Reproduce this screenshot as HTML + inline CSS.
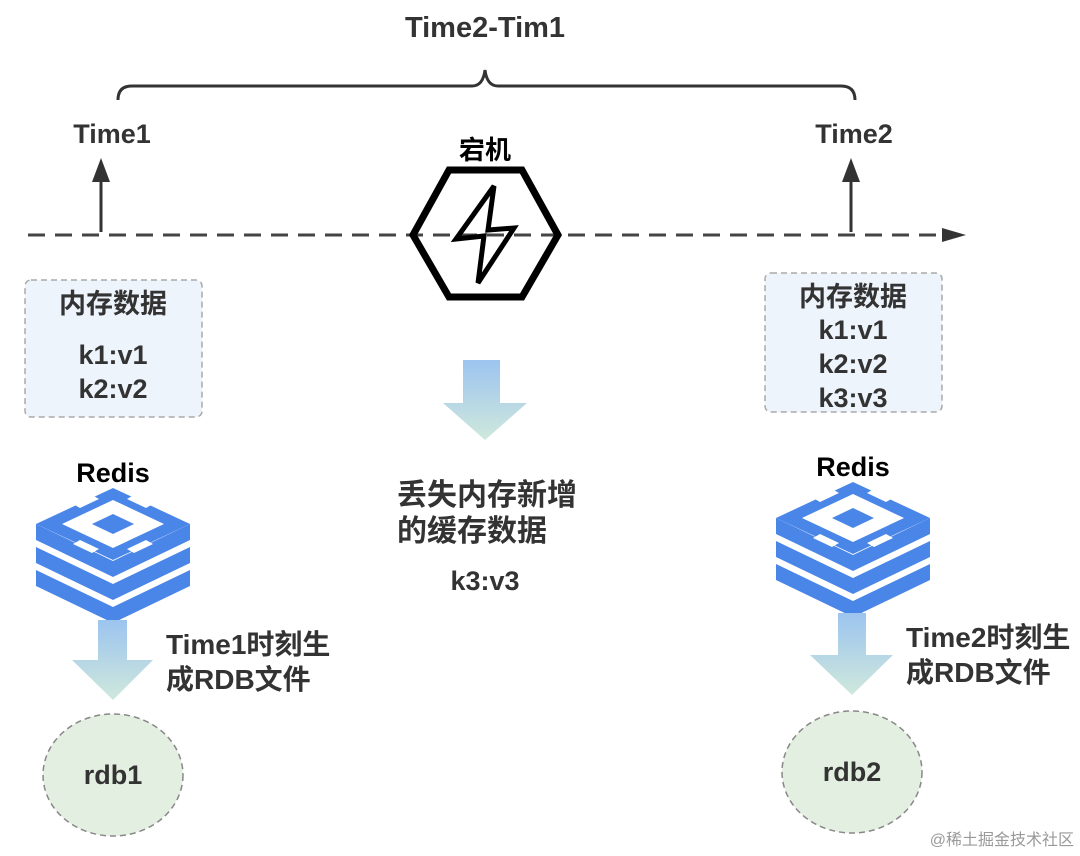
<!DOCTYPE html>
<html><head><meta charset="utf-8"><style>
html,body{margin:0;padding:0;background:#fff;}
svg{display:block;}
text{font-family:"Liberation Sans","Noto Sans CJK SC",sans-serif;font-weight:bold;fill:#333;}
</style></head><body>
<svg width="1080" height="856" viewBox="0 0 1080 856" xmlns="http://www.w3.org/2000/svg">
<defs>
<linearGradient id="g" x1="0" y1="0" x2="0" y2="1">
<stop offset="0" stop-color="#9cc4ef"/><stop offset="1" stop-color="#cfe8dc"/>
</linearGradient>
<g id="redis">
<polygon points="0,36 77,73 154,36 154,52 77,89 0,52" fill="#4a86e8"/>
<polygon points="0,59 77,96 154,59 154,75 77,112 0,75" fill="#4a86e8"/>
<polygon points="0,82 77,119 154,82 154,98 77,135 0,98" fill="#4a86e8"/>
<polygon points="77,0 154,36 77,72 0,36" fill="#4a86e8"/>
<polygon points="77,12 128,36 77,60 26,36" fill="#fff"/>
<polygon points="77,26 98,36 77,46 56,36" fill="#4a86e8"/>
<polygon points="56,7 63,11 44,20 37,16" fill="#fff"/>
<polygon points="98,7 91,11 110,20 117,16" fill="#fff"/>
<polygon points="56,65 63,61 44,52 37,56" fill="#fff"/>
<polygon points="98,65 91,61 110,52 117,56" fill="#fff"/>
</g>
</defs>

<text x="485" y="37" font-size="29" text-anchor="middle">Time2-Tim1</text>
<path d="M118,100 Q118,86 132,86 L472,86 Q483,86 485,70 Q487,86 498,86 L841,86 Q855,86 855,100" fill="none" stroke="#333" stroke-width="3"/>

<text x="112" y="143" font-size="27" text-anchor="middle">Time1</text>
<text x="854" y="143" font-size="27" text-anchor="middle">Time2</text>

<line x1="28" y1="235" x2="950" y2="235" stroke="#444" stroke-width="3" stroke-dasharray="17,10"/>
<polygon points="942,228 966,235 942,242" fill="#333"/>

<line x1="101" y1="232" x2="101" y2="175" stroke="#333" stroke-width="3"/>
<polygon points="92,182 101,158 110,182" fill="#333"/>
<line x1="851" y1="232" x2="851" y2="175" stroke="#333" stroke-width="3"/>
<polygon points="842,182 851,158 860,182" fill="#333"/>

<text x="485" y="159" font-size="26" text-anchor="middle" style="fill:#000">宕机</text>
<polygon points="449,170 522,170 558,235 522,297 449,297 413,235" fill="none" stroke="#000" stroke-width="7"/>
<polygon points="494,186 456,239 484,236 478,283 514,228 488,230" fill="none" stroke="#000" stroke-width="5"/>

<rect x="25" y="280" width="177" height="137" rx="6" fill="#eef4fc" stroke="#aaa" stroke-width="1.5" stroke-dasharray="6,4"/>
<text x="113" y="313" font-size="27" text-anchor="middle">内存数据</text>
<text x="113" y="364" font-size="27" text-anchor="middle">k1:v1</text>
<text x="113" y="398" font-size="27" text-anchor="middle">k2:v2</text>

<rect x="765" y="273" width="177" height="139" rx="6" fill="#eef4fc" stroke="#aaa" stroke-width="1.5" stroke-dasharray="6,4"/>
<text x="853" y="306" font-size="27" text-anchor="middle">内存数据</text>
<text x="853" y="339" font-size="27" text-anchor="middle">k1:v1</text>
<text x="853" y="373" font-size="27" text-anchor="middle">k2:v2</text>
<text x="853" y="407" font-size="27" text-anchor="middle">k3:v3</text>

<polygon points="463,360 500,360 500,403 527,403 485,440 443,403 463,403" fill="url(#g)"/>
<text x="397" y="505" font-size="30">丢失内存新增</text>
<text x="397" y="541" font-size="30">的缓存数据</text>
<text x="485" y="590" font-size="27" text-anchor="middle">k3:v3</text>

<text x="113" y="482" font-size="27" text-anchor="middle" style="fill:#000">Redis</text>
<use href="#redis" x="36" y="488"/>
<text x="853" y="476" font-size="27" text-anchor="middle" style="fill:#000">Redis</text>
<use href="#redis" x="776" y="482"/>

<polygon points="98,620 127,620 127,660 153,660 113,700 72,660 98,660" fill="url(#g)"/>
<text x="166" y="654" font-size="28">Time1时刻生</text>
<text x="166" y="689" font-size="28">成RDB文件</text>

<polygon points="838,613 866,613 866,655 893,655 852,695 810,655 838,655" fill="url(#g)"/>
<text x="906" y="647" font-size="28">Time2时刻生</text>
<text x="906" y="682" font-size="28">成RDB文件</text>

<ellipse cx="113" cy="775" rx="70" ry="61" fill="#e3efe0" stroke="#888" stroke-width="1.5" stroke-dasharray="6,4"/>
<text x="113" y="784" font-size="27" text-anchor="middle">rdb1</text>
<ellipse cx="852" cy="772" rx="70" ry="61" fill="#e3efe0" stroke="#888" stroke-width="1.5" stroke-dasharray="6,4"/>
<text x="852" y="781" font-size="27" text-anchor="middle">rdb2</text>

<text x="1074" y="845" font-size="16" text-anchor="end" style="fill:#999;font-weight:normal">@稀土掘金技术社区</text>
</svg>
</body></html>
